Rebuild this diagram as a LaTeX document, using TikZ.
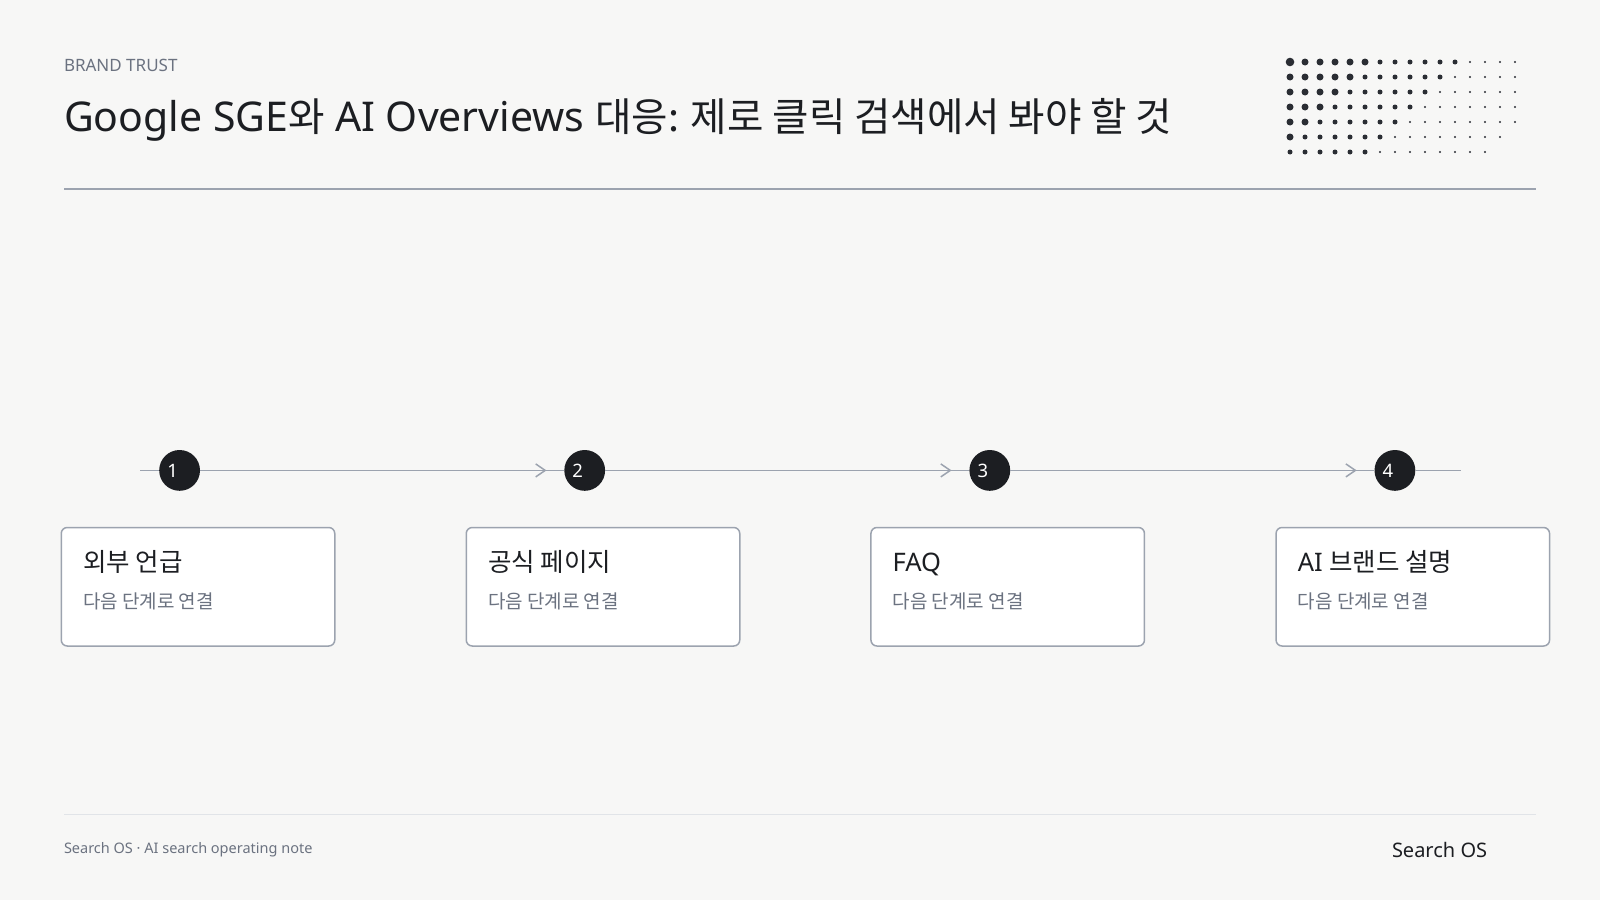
\documentclass[tikz,border=0pt]{standalone}
\usepackage{fontspec}
\setmainfont{Noto Sans}
\newfontfamily\kr{Noto Sans CJK KR}
\usetikzlibrary{arrows.meta,decorations.markings}
\definecolor{bg}{HTML}{F7F7F6}
\definecolor{ink}{HTML}{1C1E22}
\definecolor{muted}{HTML}{6B7280}
\definecolor{rule}{HTML}{9CA3AF}
\definecolor{faint}{HTML}{E1E4E8}
\definecolor{dots}{HTML}{2A2D33}
\tikzset{
  txt/.style={anchor=base west, inner sep=0pt, outer sep=0pt},
  stepbox/.style={draw=rule, line width=1.5pt, fill=white, rounded corners=6pt,
    minimum width=273.5pt, minimum height=118.5pt, inner sep=0pt},
  stepnum/.style={circle, fill=ink, minimum size=40.8pt, inner sep=0pt},
  numtxt/.style={inner sep=0pt, text=white, font=\fontsize{18.5}{20}\selectfont},
  boxtitle/.style={txt, text=ink, font=\fontsize{25.5}{28}\selectfont},
  boxsub/.style={txt, text=muted, font=\fontsize{19}{22}\selectfont},
  tline/.style={draw=rule, line width=1.6pt},
  flow/.style={tline, decoration={markings,
    mark=at position -17.6pt with {\arrow[rule, line width=1.5pt]{Straight Barb[length=9.5pt,width=13pt]}}},
    postaction={decorate}}
}
\begin{document}
\begin{tikzpicture}[x=1pt,y=-1pt]
\fill[bg] (0,0) rectangle (1600,900);
\useasboundingbox (0,0) rectangle (1600,900);

% header
\node[txt, text=muted, font=\fontsize{17}{19}\selectfont] (kicker) at (64,71) {BRAND TRUST};
\node[txt, text=ink, font=\fontsize{41}{44}\selectfont] (title) at (64,131.5)
  {Google SGE{\kr\fontsize{39.6}{44}\selectfont 와} AI Overviews {\kr\fontsize{39.6}{44}\selectfont 대응: 제로 클릭 검색에서 봐야 할 것}};
\draw[draw=rule, line width=1.5pt] (64,189) coordinate (hl) -- (1536,189) coordinate (hr);

% dot pattern
\foreach \r in {0,...,6}{
  \foreach \c in {0,...,15}{
    \pgfmathtruncatemacro{\d}{\r+\c}
    \ifnum\d<20
      \ifnum\d<6
        \def\rad{3.5}
      \else\ifnum\d<12
        \def\rad{2.5}
      \else
        \def\rad{1.2}
      \fi\fi
      \ifnum\d=0 \def\rad{4.3}\fi
      \fill[dots] (1290+15*\c,62+15*\r) circle[radius=\rad];
    \fi
  }
}

% timeline
\coordinate (tstart) at (140,470.4);
\coordinate (tend) at (1461,470.4);
\node[stepnum] (c1) at (179.6,470.4) {};
\node[stepnum] (c2) at (584.7,470.4) {};
\node[stepnum] (c3) at (989.8,470.4) {};
\node[stepnum] (c4) at (1394.9,470.4) {};
\draw[tline] (tstart) -- (c1);
\draw[flow] (c1) -- (c2);
\draw[flow] (c2) -- (c3);
\draw[flow] (c3) -- (c4);
\draw[tline] (c4) -- (tend);
\node[numtxt] at ([xshift=-7pt]c1.center) {1};
\node[numtxt] at ([xshift=-7pt]c2.center) {2};
\node[numtxt] at ([xshift=-7pt]c3.center) {3};
\node[numtxt] at ([xshift=-7pt]c4.center) {4};

% boxes
\node[stepbox] (b1) at (198,586.75) {};
\node[stepbox] (b2) at (603,586.75) {};
\node[stepbox] (b3) at (1007.7,586.75) {};
\node[stepbox] (b4) at (1412.8,586.75) {};
\node[boxtitle] (t1) at ([xshift=22.5pt,yshift=15.75pt]b1.west) {\kr 외부 언급};
\node[boxtitle] (t2) at ([xshift=22.5pt,yshift=15.75pt]b2.west) {\kr 공식 페이지};
\node[boxtitle] (t3) at ([xshift=22.5pt,yshift=15.75pt]b3.west) {FAQ};
\node[boxtitle] (t4) at ([xshift=22.5pt,yshift=15.75pt]b4.west) {AI {\kr 브랜드 설명}};
\node[boxsub] (s1) at ([xshift=22.5pt,yshift=-21.5pt]b1.west) {\kr 다음 단계로 연결};
\node[boxsub] (s2) at ([xshift=22.5pt,yshift=-21.5pt]b2.west) {\kr 다음 단계로 연결};
\node[boxsub] (s3) at ([xshift=22.5pt,yshift=-21.5pt]b3.west) {\kr 다음 단계로 연결};
\node[boxsub] (s4) at ([xshift=22.5pt,yshift=-21.5pt]b4.west) {\kr 다음 단계로 연결};

% footer
\draw[draw=faint, line width=1.5pt] (64,814.5) coordinate (fl) -- (1536,814.5) coordinate (fr);
\node[txt, text=muted, font=\fontsize{14.5}{17}\selectfont] (fnote) at (64,853.3) {Search OS · AI search operating note};
\node[txt, text=ink, font=\fontsize{20}{22}\selectfont] (brand) at (1392,857) {Search OS};
\end{tikzpicture}
\end{document}
